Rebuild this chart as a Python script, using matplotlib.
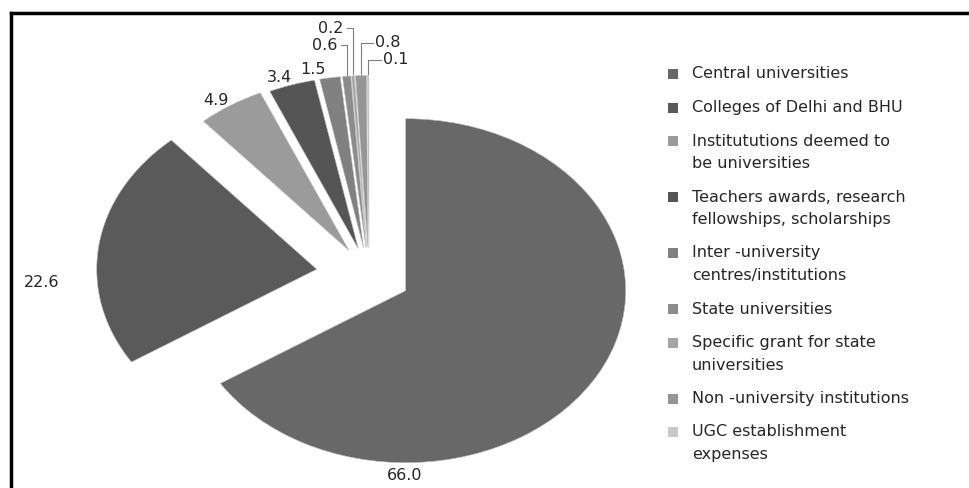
import numpy as np
import matplotlib
matplotlib.use("Agg")
import matplotlib.pyplot as plt
from matplotlib.lines import Line2D
from matplotlib.patches import Rectangle

# UGC grant shares (%)
categories = [
    "Central universities",
    "Colleges of Delhi and BHU",
    "Institututions deemed to\nbe universities",
    "Teachers awards, research\nfellowships, scholarships",
    "Inter -university\ncentres/institutions",
    "State universities",
    "Specific grant for state\nuniversities",
    "Non -university institutions",
    "UGC establishment\nexpenses",
]
shares = [66.0, 22.6, 4.9, 3.4, 1.5, 0.6, 0.2, 0.8, 0.1]
value_labels = ["66.0", "22.6", "4.9", "3.4", "1.5", "0.6", "0.2", "0.8", "0.1"]

colors = ["#686868", "#5a5a5a", "#9b9b9b", "#555555", "#808080",
          "#8c8c8c", "#a5a5a5", "#969696", "#c8c8c8"]
explode = [0.19, 0.24, 0.17, 0.16, 0.16, 0.16, 0.16, 0.16, 0.16]

# label anchors in axis units (pie radius = 1)
label_pos = [(0.16, -1.163), (-1.486, -0.041), (-0.695, 1.017), (-0.409, 1.151),
             (-0.255, 1.192), (-0.20, 1.337), (-0.173, 1.436), (0.086, 1.349),
             (0.123, 1.25)]
leader = [False, False, False, False, False, True, True, True, True]

plt.rcParams["font.family"] = ["DejaVu Sans"]
TEXT = "#262626"
W, H = 970, 488

fig = plt.figure(figsize=(W / 100, H / 100), dpi=100)
ax = fig.add_axes([0, 0, 1, 1])

wedges, _ = ax.pie(shares, explode=explode, colors=colors, startangle=90,
                   counterclock=False, radius=1.0,
                   wedgeprops=dict(edgecolor="#bdbdbd", linewidth=0.4))

# stretch the pie into an ellipse like the printed figure
ax.set_aspect("auto")
ax.set_xlim(-369 / 220, (W - 369) / 220)
ax.set_ylim(-213 / 172, 275 / 172)
ax.axis("off")

for w, lab, (lx, ly), use_line in zip(wedges, value_labels, label_pos, leader):
    ax.text(lx, ly, lab, ha="center", va="center", fontsize=11.5, color=TEXT)
    if not use_line:
        continue
    mid = np.deg2rad((w.theta1 + w.theta2) / 2)
    cx, cy = w.center
    tx, ty = cx + w.r * np.cos(mid), cy + w.r * np.sin(mid)
    # elbow leader: up from the slice tip, then across to the label
    end_x = lx + 0.075 if lx < tx else lx - 0.07
    ax.plot([tx, tx, end_x], [ty + 0.01, ly, ly], color="#7f7f7f", lw=0.8)

# legend, drawn entry by entry so swatches sit on the first text line
x_box, x_txt = 668, 692
y = 74
line_h, gap = 22.5, 33.5
for cat, col in zip(categories, colors):
    lines = cat.split("\n")
    fig.add_artist(Rectangle((x_box / W, 1 - (y + 5) / H), 10 / W, 10 / H,
                             transform=fig.transFigure, facecolor=col,
                             edgecolor="none"))
    for i, ln in enumerate(lines):
        fig.text(x_txt / W, 1 - (y + i * line_h) / H, ln, ha="left",
                 va="center", fontsize=11.5, color=TEXT)
    y += line_h * (len(lines) - 1) + gap

# page frame
fig.add_artist(Line2D([11 / W, 1], [1 - 13 / H] * 2, transform=fig.transFigure,
                      color="black", lw=2.5))
fig.add_artist(Line2D([11 / W] * 2, [0, 1 - 13 / H], transform=fig.transFigure,
                      color="black", lw=2.5))

fig.savefig("out.png", dpi=100)
